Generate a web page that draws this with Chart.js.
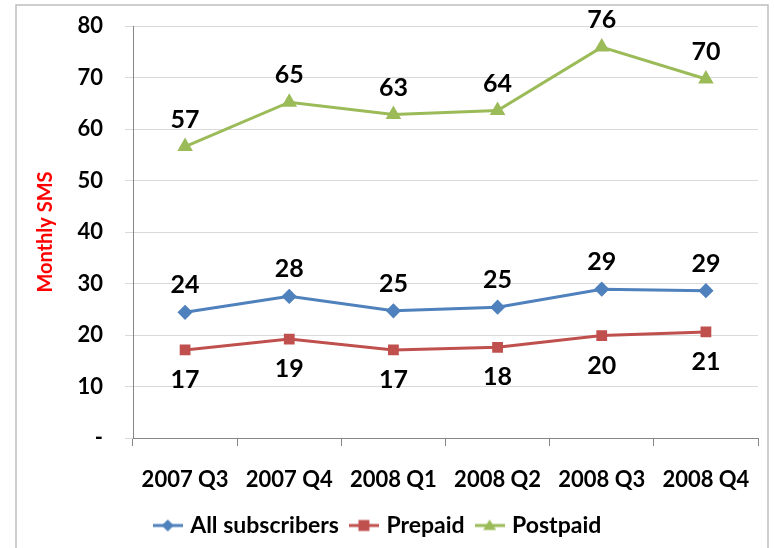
<!DOCTYPE html>
<html>
<head>
<meta charset="utf-8">
<script src="https://cdn.jsdelivr.net/npm/chart.js@4/dist/chart.umd.min.js"></script>
<style>
  html, body { margin: 0; padding: 0; background: #fff; }
  #wrap { width: 774px; height: 548px; }
</style>
</head>
<body>
<div id="wrap"><canvas id="sms-chart" width="774" height="548"></canvas></div>
<script>
// quarters on the x axis
const quarters = ['2007 Q3', '2007 Q4', '2008 Q1', '2008 Q2', '2008 Q3', '2008 Q4'];
// monthly SMS per subscriber
const allSubscribers = [24.4, 27.5, 24.7, 25.4, 28.9, 28.6];
const prepaid = [17.1, 19.2, 17.1, 17.6, 19.9, 20.6];
const postpaid = [56.6, 65.2, 62.8, 63.6, 75.9, 69.7];
const yTicks = [0, 10, 20, 30, 40, 50, 60, 70, 80];

const FONT = 'Lato, "Open Sans", sans-serif';
const colBlue = '#4F81BD', colRed = '#C0504D', colGreen = '#9BBB59';

// little line+marker picture for the legend, like excel does it
function legendIcon(color, shape) {
    var c = document.createElement('canvas');
    c.width = 30; c.height = 16;
    var g = c.getContext('2d');
    g.strokeStyle = color; g.lineWidth = 3;
    g.beginPath(); g.moveTo(0, 8); g.lineTo(30, 8); g.stroke();
    g.fillStyle = color;
    g.beginPath();
    if (shape == 'diamond') {
        g.moveTo(15, 2); g.lineTo(21, 8); g.lineTo(15, 14); g.lineTo(9, 8);
    } else if (shape == 'square') {
        g.rect(9.5, 2.5, 11, 11);
    } else {
        g.moveTo(15, 2); g.lineTo(21.5, 12.5); g.lineTo(8.5, 12.5);
    }
    g.closePath(); g.fill();
    return c;
}

const frame = {
    id: 'frame',
    beforeDraw(chart) {
        const ctx = chart.ctx;
        ctx.save();
        ctx.fillStyle = '#fff';
        ctx.fillRect(0, 0, chart.width, chart.height);
        ctx.strokeStyle = '#bfbfbf';
        ctx.lineWidth = 1.5;
        ctx.strokeRect(16, 5, 752, 600);
        ctx.restore();
    }
};

// value labels: above for blue and green, below for red
const valueLabels = {
    id: 'valueLabels',
    afterDatasetsDraw(chart) {
        const ctx = chart.ctx;
        ctx.save();
        ctx.font = 'bold 25px ' + FONT;
        ctx.fillStyle = '#000';
        ctx.textAlign = 'center';
        ctx.textBaseline = 'middle';
        chart.data.datasets.forEach((ds, i) => {
            const meta = chart.getDatasetMeta(i);
            meta.data.forEach((pt, j) => {
                const dy = ds.label == 'Prepaid' ? 30 : -27;
                ctx.fillText(Math.round(ds.data[j]), pt.x, pt.y + dy);
            });
        });
        ctx.restore();
    }
};

const icons = [legendIcon(colBlue, 'diamond'), legendIcon(colRed, 'square'), legendIcon(colGreen, 'triangle')];

new Chart(document.getElementById('sms-chart').getContext('2d'), {
    type: 'line',
    data: {
        labels: quarters,
        datasets: [
            { label: 'All subscribers', data: allSubscribers, borderColor: colBlue, backgroundColor: colBlue,
              pointStyle: 'rectRot', pointRadius: 5.5, borderWidth: 3 },
            { label: 'Prepaid', data: prepaid, borderColor: colRed, backgroundColor: colRed,
              pointStyle: 'rect', pointRadius: 5.5, borderWidth: 3 },
            { label: 'Postpaid', data: postpaid, borderColor: colGreen, backgroundColor: colGreen,
              pointStyle: 'triangle', pointRadius: 6, borderWidth: 3 }
        ]
    },
    options: {
        responsive: false,
        animation: false,
        layout: { padding: { top: 26, left: 0, right: 16, bottom: 1 } },
        plugins: {
            tooltip: { enabled: false },
            legend: {
                position: 'bottom',
                labels: {
                    usePointStyle: true,
                    pointStyleWidth: 22,
                    padding: 14,
                    color: '#000',
                    font: { family: FONT, size: 23, weight: 'bold' },
                    generateLabels(chart) {
                        return chart.data.datasets.map((ds, i) => ({
                            text: ds.label,
                            pointStyle: icons[i],
                            fillStyle: ds.borderColor,
                            strokeStyle: ds.borderColor,
                            lineWidth: 0,
                            datasetIndex: i
                        }));
                    }
                }
            }
        },
        scales: {
            x: {
                offset: true,
                grid: { offset: true, drawOnChartArea: false, color: '#868686', tickLength: 8 },
                border: { color: '#868686' },
                ticks: { color: '#000', padding: 21, maxRotation: 0, font: { family: FONT, size: 22, weight: 'bold' } },
                afterFit(s) { s.height = 62; }
            },
            y: {
                min: 0,
                max: 80,
                afterBuildTicks(s) { s.ticks = yTicks.map(v => ({ value: v })); },
                grid: { color: '#d9d9d9', tickLength: 8 },
                border: { color: '#868686' },
                ticks: {
                    color: '#000', padding: 22,
                    font: { family: FONT, size: 22, weight: 'bold' },
                    callback: v => v === 0 ? '-' : v
                },
                title: {
                    display: true, text: 'Monthly SMS', color: '#ff0000',
                    padding: { top: 34, bottom: 0 },
                    font: { family: FONT, size: 20, weight: 'bold' }
                },
                afterFit(s) {
                    s.width = 133;
                    // the tick padding would otherwise push the plot top down
                    s.paddingTop = 0;
                    s.paddingBottom = 0;
                }
            }
        }
    },
    plugins: [frame, valueLabels]
});
</script>
</body>
</html>
